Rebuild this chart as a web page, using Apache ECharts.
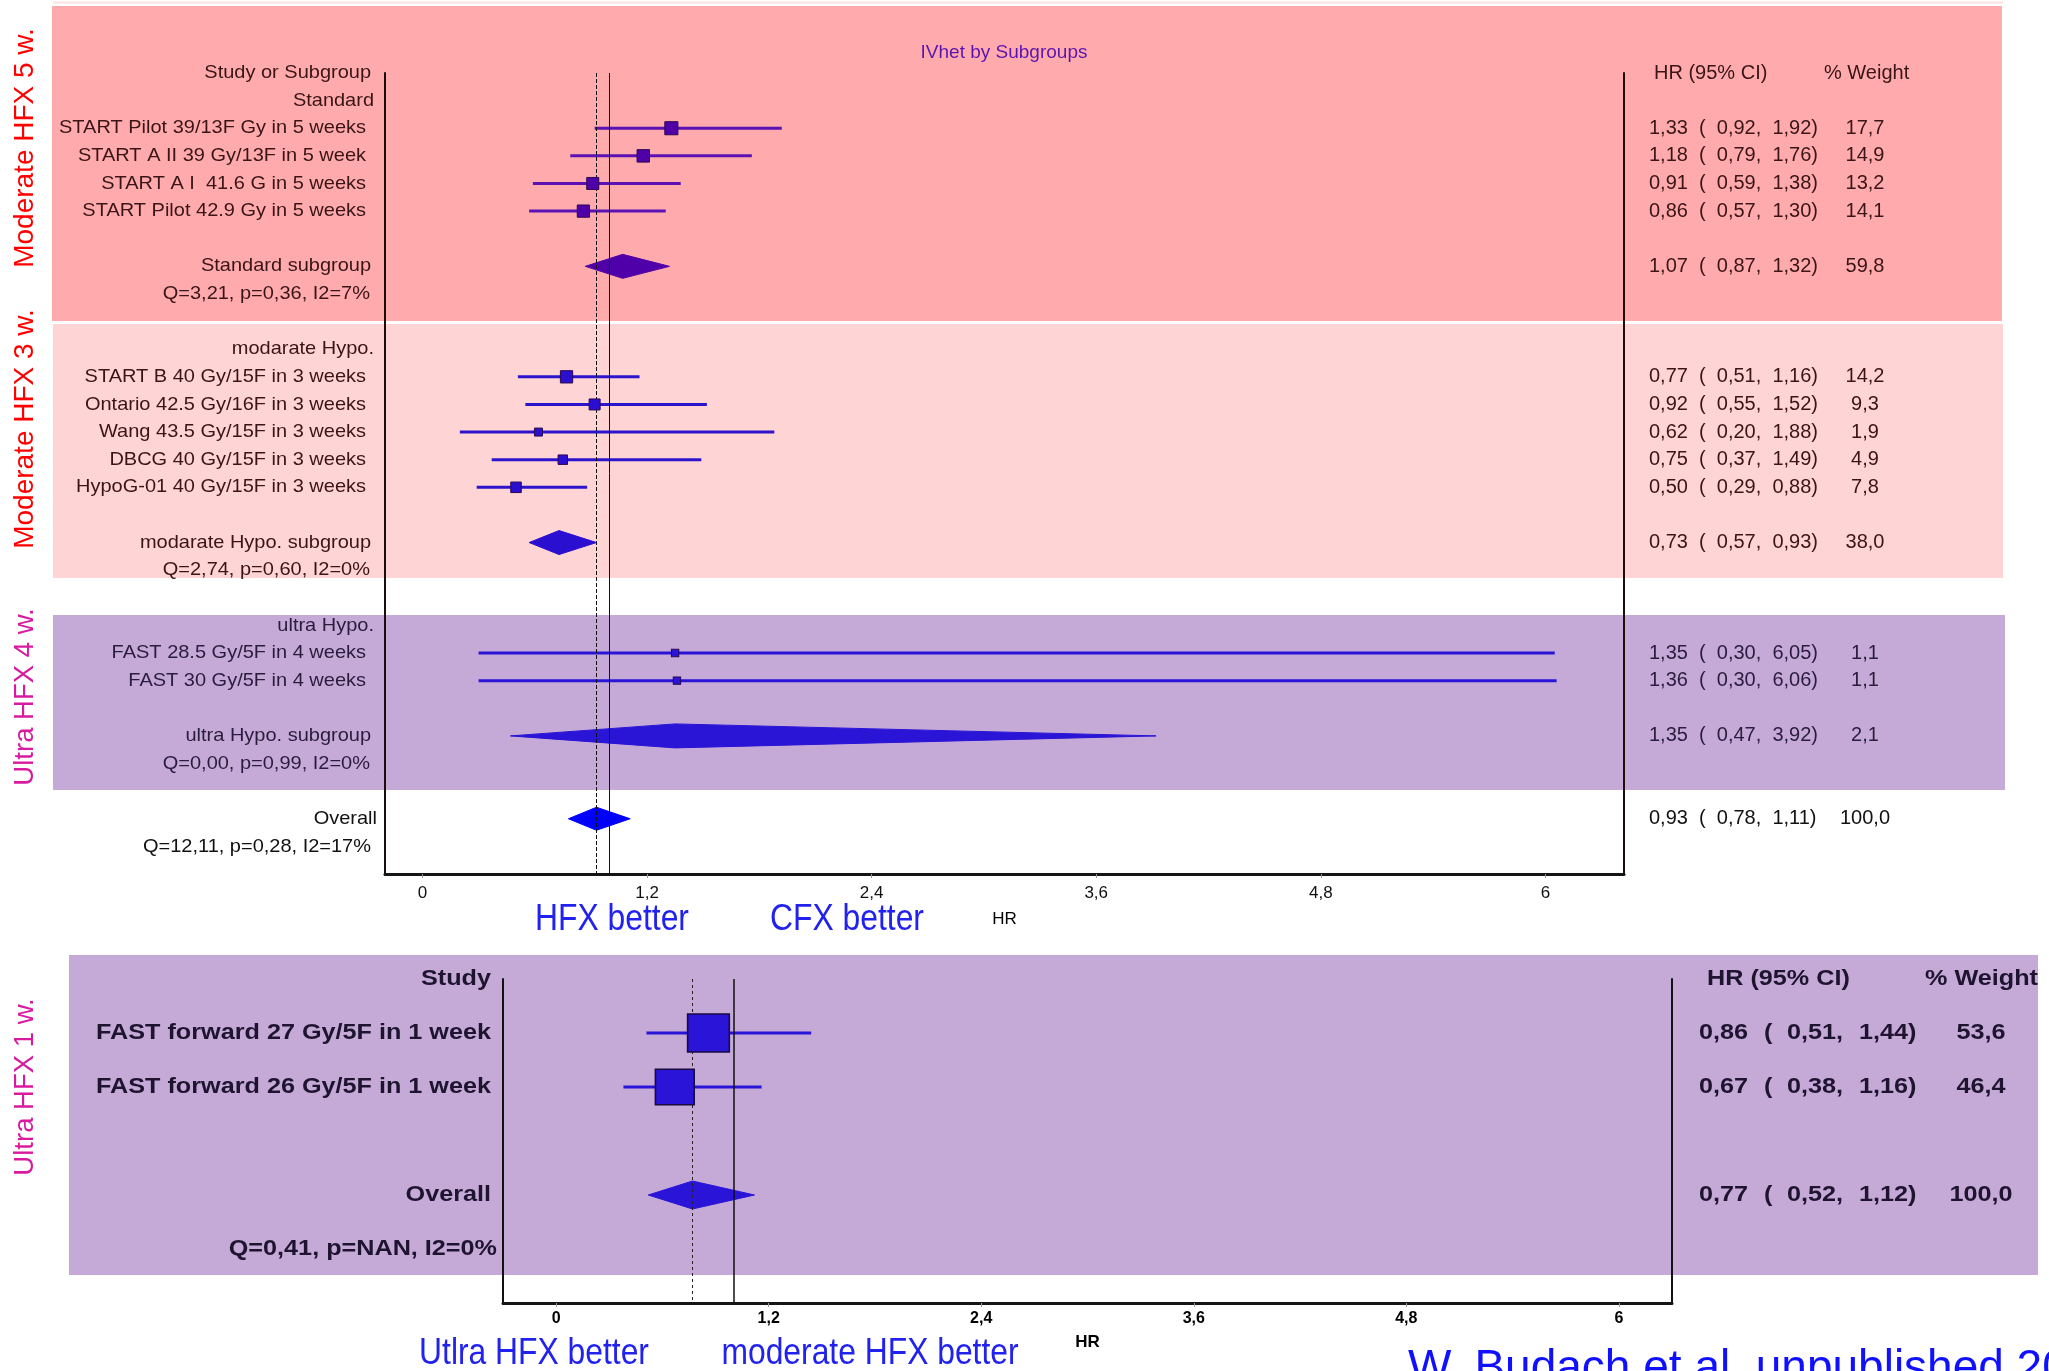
<!DOCTYPE html>
<html><head><meta charset="utf-8">
<script src="https://cdn.jsdelivr.net/npm/echarts@6/dist/echarts.min.js"></script>
<style>html,body{margin:0;padding:0;background:#fff}#c{width:2049px;height:1371px}</style>
</head><body><div id="c"></div>
<script>
// ================= DATA =================
// Top panel (IVhet by subgroups)
const studyNames = [
  'START Pilot 39/13F Gy in 5 weeks',
  'START A II 39 Gy/13F in 5 week',
  'START A I  41.6 G in 5 weeks',
  'START Pilot 42.9 Gy in 5 weeks',
  'START B 40 Gy/15F in 3 weeks',
  'Ontario 42.5 Gy/16F in 3 weeks',
  'Wang 43.5 Gy/15F in 3 weeks',
  'DBCG 40 Gy/15F in 3 weeks',
  'HypoG-01 40 Gy/15F in 3 weeks',
  'FAST 28.5 Gy/5F in 4 weeks',
  'FAST 30 Gy/5F in 4 weeks'
];
const studyRows   = [2, 3, 4, 5, 11, 12, 13, 14, 15, 21, 22];
const studyGroup  = [0, 0, 0, 0, 1, 1, 1, 1, 1, 2, 2];
const studyHR     = [1.33, 1.18, 0.91, 0.86, 0.77, 0.92, 0.62, 0.75, 0.50, 1.35, 1.36];
const studyLo     = [0.92, 0.79, 0.59, 0.57, 0.51, 0.55, 0.20, 0.37, 0.29, 0.30, 0.30];
const studyHi     = [1.92, 1.76, 1.38, 1.30, 1.16, 1.52, 1.88, 1.49, 0.88, 6.05, 6.06];
const studyWeight = [17.7, 14.9, 13.2, 14.1, 14.2, 9.3, 1.9, 4.9, 7.8, 1.1, 1.1];

const groupNames      = ['Standard', 'modarate Hypo.', 'ultra Hypo.'];
const groupHeaderRows = [1, 10, 20];
const subgroupNames   = ['Standard subgroup', 'modarate Hypo. subgroup', 'ultra Hypo. subgroup'];
const subgroupRows    = [7, 17, 24];
const subgroupHR      = [1.07, 0.73, 1.35];
const subgroupLo      = [0.87, 0.57, 0.47];
const subgroupHi      = [1.32, 0.93, 3.92];
const subgroupWeight  = [59.8, 38.0, 2.1];
const subgroupStats   = ['Q=3,21, p=0,36, I2=7%', 'Q=2,74, p=0,60, I2=0%', 'Q=0,00, p=0,99, I2=0%'];

const overallRow    = [27];
const overallHR     = [0.93];
const overallLo     = [0.78];
const overallHi     = [1.11];
const overallWeight = [100.0];
const overallStats  = ['Q=12,11, p=0,28, I2=17%'];

const topTicks = [0, 1.2, 2.4, 3.6, 4.8, 6];

// Bottom panel (FAST-Forward)
const ffNames   = ['FAST forward 27 Gy/5F in 1 week', 'FAST forward 26 Gy/5F in 1 week'];
const ffRows    = [2, 4];
const ffHR      = [0.86, 0.67];
const ffLo      = [0.51, 0.38];
const ffHi      = [1.44, 1.16];
const ffWeight  = [53.6, 46.4];
const ffOverallRow    = [8];
const ffOverallHR     = [0.77];
const ffOverallLo     = [0.52];
const ffOverallHi     = [1.12];
const ffOverallWeight = [100.0];
const ffOverallStats  = ['Q=0,41, p=NAN, I2=0%'];
const bottomTicks = [0, 1.2, 2.4, 3.6, 4.8, 6];

// ================= HELPERS =================
const fmt2 = v => v.toFixed(2).replace('.', ',');
const fmt1 = v => v.toFixed(1).replace('.', ',');
const fmtTick = v => String(v).replace('.', ',');

const SANS = 'Liberation Sans';

const bandMark = ['#5000a8', '#2a0fd0', '#2a14d6'];
const bandLine = ['#5a12b4', '#2c14cc', '#2a14d6'];
const OVERALL_BLUE = '#0000ff';
const BOTTOM_BLUE = '#2a14d8';

function topTextColor(row) {
  if (row <= 19) return '#3a1416';
  if (row <= 26) return '#2a1c3c';
  return '#111111';
}

// ---------- text item lists ----------
const topLeftItems = [];
topLeftItems.push({row: 0, text: 'Study or Subgroup', dx: -14});
groupNames.forEach((t, i) => topLeftItems.push({row: groupHeaderRows[i], text: t, dx: -11}));
studyNames.forEach((t, i) => topLeftItems.push({row: studyRows[i], text: t, dx: -19}));
subgroupNames.forEach((t, i) => topLeftItems.push({row: subgroupRows[i], text: t, dx: -14}));
subgroupStats.forEach((t, i) => topLeftItems.push({row: subgroupRows[i] + 1, text: t, dx: -15}));
topLeftItems.push({row: overallRow[0], text: 'Overall', dx: -8});
topLeftItems.push({row: overallRow[0] + 1, text: overallStats[0], dx: -14});
topLeftItems.forEach(it => { it.align = 'right'; it.size = 18.6; it.sx = 1.075; it.weight = 'normal'; it.color = topTextColor(it.row); });

const ciStr = (h, l, u) => fmt2(h) + '  (  ' + fmt2(l) + ',  ' + fmt2(u) + ')';
const topRightItems = [];
topRightItems.push({row: 0, text: 'HR (95% CI)', dx: 30, align: 'left'});
topRightItems.push({row: 0, text: '% Weight', dx: 200, align: 'left'});
studyNames.forEach((t, i) => {
  topRightItems.push({row: studyRows[i], text: ciStr(studyHR[i], studyLo[i], studyHi[i]), dx: 25, align: 'left'});
  topRightItems.push({row: studyRows[i], text: fmt1(studyWeight[i]), dx: 241, align: 'center'});
});
subgroupNames.forEach((t, i) => {
  topRightItems.push({row: subgroupRows[i], text: ciStr(subgroupHR[i], subgroupLo[i], subgroupHi[i]), dx: 25, align: 'left'});
  topRightItems.push({row: subgroupRows[i], text: fmt1(subgroupWeight[i]), dx: 241, align: 'center'});
});
topRightItems.push({row: overallRow[0], text: ciStr(overallHR[0], overallLo[0], overallHi[0]), dx: 25, align: 'left'});
topRightItems.push({row: overallRow[0], text: fmt1(overallWeight[0]), dx: 241, align: 'center'});
topRightItems.forEach(it => { it.size = 20; it.sx = 1; it.weight = 'normal'; it.color = topTextColor(it.row); });

const BOT_TXT = '#1e1430';
const botLeftItems = [];
botLeftItems.push({row: 0, text: 'Study', dx: -12});
ffNames.forEach((t, i) => botLeftItems.push({row: ffRows[i], text: t, dx: -12}));
botLeftItems.push({row: ffOverallRow[0], text: 'Overall', dx: -12});
botLeftItems.push({row: ffOverallRow[0] + 2, text: ffOverallStats[0], dx: -6});
botLeftItems.forEach(it => { it.align = 'right'; it.size = 22.5; it.sx = 1.12; it.weight = 'bold'; it.color = BOT_TXT; });

const botRightItems = [];
botRightItems.push({row: 0, text: 'HR (95% CI)', dx: 35, align: 'left'});
botRightItems.push({row: 0, text: '% Weight', dx: 253, align: 'left'});
function pushBotRow(row, h, l, u, w) {
  botRightItems.push({row, text: fmt2(h), dx: 27, align: 'left'});
  botRightItems.push({row, text: '(', dx: 92, align: 'left'});
  botRightItems.push({row, text: fmt2(l) + ',', dx: 115, align: 'left'});
  botRightItems.push({row, text: fmt2(u) + ')', dx: 187, align: 'left'});
  botRightItems.push({row, text: fmt1(w), dx: 309, align: 'center'});
}
ffNames.forEach((t, i) => pushBotRow(ffRows[i], ffHR[i], ffLo[i], ffHi[i], ffWeight[i]));
pushBotRow(ffOverallRow[0], ffOverallHR[0], ffOverallLo[0], ffOverallHi[0], ffOverallWeight[0]);
botRightItems.forEach(it => { it.size = 22.5; it.sx = 1.12; it.weight = 'bold'; it.color = BOT_TXT; });

// ---------- series builders ----------
function textSeries(xi, yi, items, side) {
  return {
    type: 'custom', xAxisIndex: xi, yAxisIndex: yi, clip: false, silent: true, z: 6,
    data: items.map(it => [0, it.row]),
    renderItem: (params, api) => {
      const it = items[params.dataIndex];
      const cs = params.coordSys;
      const y = api.coord([0, api.value(1)])[1];
      const x = (side === 'left' ? cs.x : cs.x + cs.width) + it.dx;
      return {type: 'text', x: x, y: y, scaleX: it.sx, style: {
        text: it.text, fill: it.color, fontSize: it.size, fontFamily: SANS,
        fontWeight: it.weight, align: it.align, verticalAlign: 'middle'}};
    }
  };
}
function ciSeries(xi, yi, lo, hi, rows, colorFn, width) {
  return {
    type: 'custom', xAxisIndex: xi, yAxisIndex: yi, clip: false, silent: true, z: 3,
    data: lo.map((l, i) => [l, hi[i], rows[i]]),
    encode: {x: [0, 1], y: 2},
    renderItem: (params, api) => {
      const a = api.coord([api.value(0), api.value(2)]);
      const b = api.coord([api.value(1), api.value(2)]);
      return {type: 'line', shape: {x1: a[0], y1: a[1], x2: b[0], y2: b[1]},
        style: {stroke: colorFn(params.dataIndex), lineWidth: width}};
    }
  };
}
function diamondSeries(xi, yi, lo, hr, hi, rows, colorFn, halfH) {
  return {
    type: 'custom', xAxisIndex: xi, yAxisIndex: yi, clip: false, silent: true, z: 4,
    data: lo.map((l, i) => [l, hr[i], hi[i], rows[i]]),
    encode: {x: [0, 1, 2], y: 3},
    renderItem: (params, api) => {
      const r = api.value(3);
      const L = api.coord([api.value(0), r]);
      const C = api.coord([api.value(1), r]);
      const R = api.coord([api.value(2), r]);
      return {type: 'polygon', shape: {points: [[L[0], L[1]], [C[0], C[1] - halfH], [R[0], R[1]], [C[0], C[1] + halfH]]},
        style: {fill: colorFn(params.dataIndex), stroke: colorFn(params.dataIndex), lineWidth: 1}};
    }
  };
}

// ================= OPTION =================
const topSize = w => 5.5 + 1.8 * Math.sqrt(w);
const botSize = w => { const s = 5.7 * Math.sqrt(w); return [s, s * 0.91]; };

function xAxisCfg(gridIndex, min, max, ticks, labelFont, labelMargin, nameGap, nameFont) {
  return {
    type: 'value', gridIndex, min, max,
    name: 'HR', nameLocation: 'middle', nameGap,
    nameTextStyle: Object.assign({color: '#000', fontFamily: SANS, verticalAlign: 'top'}, nameFont),
    axisLine: {show: true, onZero: false, lineStyle: {color: '#151515', width: 3}},
    axisTick: {show: true, length: 4, customValues: ticks, lineStyle: {color: '#999', width: 1}},
    axisLabel: Object.assign({show: true, customValues: ticks, margin: labelMargin, color: '#111',
      fontFamily: SANS, formatter: v => fmtTick(v)}, labelFont),
    splitLine: {show: false}
  };
}
function yAxisCfg(gridIndex, max, position, color) {
  return {
    type: 'value', gridIndex, min: 0, max, inverse: true, position,
    axisLine: {show: true, onZero: false, lineStyle: {color, width: 2}},
    axisTick: {show: false}, axisLabel: {show: false}, splitLine: {show: false}
  };
}

const BIG = {fontSize: 37, fontFamily: SANS, fill: '#2222ee', align: 'center', verticalAlign: 'middle'};
const graphicEls = [
  {type: 'rect', z: -10, shape: {x: 53, y: 1.5, width: 1950, height: 2}, style: {fill: '#fde2e3'}},
  {type: 'rect', z: -10, shape: {x: 52, y: 6, width: 1950, height: 315}, style: {fill: '#ffabad'}},
  {type: 'rect', z: -10, shape: {x: 53, y: 324, width: 1950, height: 254}, style: {fill: '#ffd4d5'}},
  {type: 'rect', z: -10, shape: {x: 53, y: 615, width: 1952, height: 175}, style: {fill: '#c5aad8'}},
  {type: 'rect', z: -10, shape: {x: 69, y: 955, width: 1969, height: 320}, style: {fill: '#c5aad8'}},
  {type: 'text', z: 10, x: 25, y: 148, rotation: Math.PI / 2,
    style: {text: 'Moderate HFX 5 w.', fill: '#ff0000', fontSize: 28, fontFamily: SANS, align: 'center', verticalAlign: 'middle'}},
  {type: 'text', z: 10, x: 25, y: 429, rotation: Math.PI / 2,
    style: {text: 'Moderate HFX 3 w.', fill: '#ff0000', fontSize: 28, fontFamily: SANS, align: 'center', verticalAlign: 'middle'}},
  {type: 'text', z: 10, x: 25, y: 697, rotation: Math.PI / 2,
    style: {text: 'Ultra HFX 4 w.', fill: '#d81b9e', fontSize: 27.5, fontFamily: SANS, align: 'center', verticalAlign: 'middle'}},
  {type: 'text', z: 10, x: 25, y: 1087, rotation: Math.PI / 2,
    style: {text: 'Ultra HFX 1 w.', fill: '#d81b9e', fontSize: 27.5, fontFamily: SANS, align: 'center', verticalAlign: 'middle'}},
  {type: 'text', z: 10, x: 1004, y: 53,
    style: {text: 'IVhet by Subgroups', fill: '#5b14b0', fontSize: 19, fontFamily: SANS, align: 'center', verticalAlign: 'middle'}},
  {type: 'text', z: 10, x: 612, y: 920, scaleX: 0.86, style: Object.assign({text: 'HFX better'}, BIG)},
  {type: 'text', z: 10, x: 847, y: 920, scaleX: 0.86, style: Object.assign({text: 'CFX better'}, BIG)},
  {type: 'text', z: 10, x: 534, y: 1354, scaleX: 0.86, style: Object.assign({text: 'Utlra HFX better'}, BIG)},
  {type: 'text', z: 10, x: 870, y: 1354, scaleX: 0.86, style: Object.assign({text: 'moderate HFX better'}, BIG)},
  {type: 'text', z: 10, x: 1408, y: 1369,
    style: {text: 'W. Budach et al. unpublished 2020', fill: '#1010ff', fontSize: 46, fontFamily: SANS, align: 'left', verticalAlign: 'middle'}}
];

const option = {
  backgroundColor: '#ffffff',
  animation: false,
  grid: [
    {left: 385, top: 73, width: 1239, height: 801, containLabel: false},
    {left: 503, top: 979, width: 1169, height: 324, containLabel: false}
  ],
  xAxis: [
    xAxisCfg(0, -0.2, 6.42, topTicks, {fontSize: 17}, 11, 37, {fontSize: 17}),
    xAxisCfg(1, -0.3, 6.3, bottomTicks, {fontSize: 16, fontWeight: 'bold', color: '#000'}, 8, 31, {fontSize: 17, fontWeight: 'bold'})
  ],
  yAxis: [
    yAxisCfg(0, 29, 'left', '#1c0c0c'),
    yAxisCfg(0, 29, 'right', '#1c0c0c'),
    yAxisCfg(1, 12, 'left', '#111'),
    yAxisCfg(1, 12, 'right', '#111')
  ],
  graphic: {elements: graphicEls},
  series: [
    // ---- top panel ----
    ciSeries(0, 0, studyLo, studyHi, studyRows, i => bandLine[studyGroup[i]], 3),
    {
      type: 'scatter', xAxisIndex: 0, yAxisIndex: 0, silent: true, z: 5,
      data: studyHR.map((h, i) => [h, studyRows[i]]),
      symbol: 'rect',
      symbolSize: (val, p) => topSize(studyWeight[p.dataIndex]),
      itemStyle: {color: p => bandMark[studyGroup[p.dataIndex]], borderColor: '#2a0850', borderWidth: 1, opacity: 1},
      markLine: {
        silent: true, symbol: ['none', 'none'], label: {show: false},
        data: [
          {xAxis: 1, lineStyle: {color: '#3a0000', width: 1, type: 'solid'}},
          {xAxis: overallHR[0], lineStyle: {color: '#111', width: 1, type: [4, 2]}}
        ]
      }
    },
    diamondSeries(0, 0, subgroupLo, subgroupHR, subgroupHi, subgroupRows, i => bandMark[i], 12),
    diamondSeries(0, 0, overallLo, overallHR, overallHi, overallRow, () => OVERALL_BLUE, 11.5),
    textSeries(0, 0, topLeftItems, 'left'),
    textSeries(0, 0, topRightItems, 'right'),
    // ---- bottom panel ----
    ciSeries(1, 2, ffLo, ffHi, ffRows, () => BOTTOM_BLUE, 3),
    {
      type: 'scatter', xAxisIndex: 1, yAxisIndex: 2, silent: true, z: 5,
      data: ffHR.map((h, i) => [h, ffRows[i]]),
      symbol: 'rect',
      symbolSize: (val, p) => botSize(ffWeight[p.dataIndex]),
      itemStyle: {color: BOTTOM_BLUE, borderColor: '#1a0a40', borderWidth: 1.5, opacity: 1},
      markLine: {
        silent: true, symbol: ['none', 'none'], label: {show: false},
        data: [
          {xAxis: 1, lineStyle: {color: '#111', width: 1.5, type: 'solid'}},
          {xAxis: ffOverallHR[0], lineStyle: {color: '#222', width: 1, type: [3, 3]}}
        ]
      }
    },
    diamondSeries(1, 2, ffOverallLo, ffOverallHR, ffOverallHi, ffOverallRow, () => BOTTOM_BLUE, 14),
    textSeries(1, 2, botLeftItems, 'left'),
    textSeries(1, 2, botRightItems, 'right')
  ]
};

const chart = echarts.init(document.getElementById('c'), null, {renderer: 'canvas', width: 2049, height: 1371});
chart.setOption(option);
</script>
</body></html>
